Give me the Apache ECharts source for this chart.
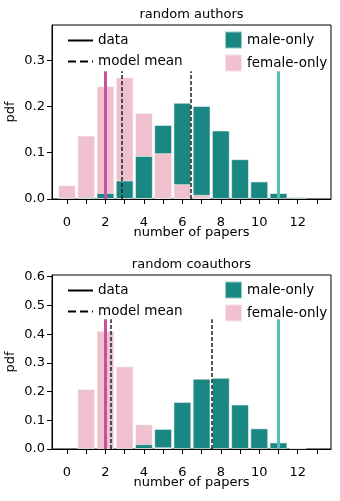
<!DOCTYPE html>
<html>
<head>
<meta charset="utf-8">
<script src="https://cdn.jsdelivr.net/npm/echarts@6/dist/echarts.min.js"></script>
<style>
html,body{margin:0;padding:0;background:#fff;}
#main{width:340px;height:501px;}
</style>
</head>
<body>
<div id="main"></div>
<script>
// number of papers (bar positions)
var papers = [0, 1, 2, 3, 4, 5, 6, 7, 8, 9, 10, 11, 12];
var xTicks = [0, 1, 2, 3, 4, 5, 6, 7, 8, 9, 10, 11, 12, 13];
var xLabels = [0, 2, 4, 6, 8, 10, 12];

// random authors
var authorsMale   = [0, 0.004, 0.013, 0.040, 0.093, 0.160, 0.208, 0.201, 0.148, 0.086, 0.038, 0.013, 0.004];
var authorsFemale = [0.030, 0.137, 0.244, 0.263, 0.186, 0.099, 0.032, 0.009, 0, 0, 0, 0, 0];
var authorsData = [2, 11];        // female, male
var authorsMean = [2.87, 6.45];   // female, male
var authorsLineTop = 0.276;
var authorsYTicks = [0, 0.1, 0.2, 0.3];

// random coauthors
var coauthorsMale   = [0, 0, 0, 0, 0.017, 0.070, 0.164, 0.245, 0.248, 0.155, 0.072, 0.023, 0.003];
var coauthorsFemale = [0, 0.209, 0.412, 0.288, 0.086, 0.006, 0, 0, 0, 0, 0, 0, 0];
var coauthorsData = [1.97, 11];
var coauthorsMean = [2.25, 7.53];
var coauthorsLineTop = 0.452;
var coauthorsYTicks = [0, 0.1, 0.2, 0.3, 0.4, 0.5, 0.6];

var TEAL = '#1a8782', PINK = '#efc1cf';
var LINE_PINK = '#c3559f', LINE_TEAL = '#5bbdb7';
var FONT = 'DejaVu Sans';

var myChart = echarts.init(document.getElementById('main'), null, {renderer: 'canvas'});

function bars(male, female, gi) {
	// smaller bar goes in front
	var mb = [], fb = [], mf = [], ff = [];
	papers.forEach(function (x, i) {
		var m = male[i], f = female[i];
		if (m >= f) {
			if (m > 0) mb.push([x, m]);
			if (f > 0) ff.push([x, f]);
		} else {
			fb.push([x, f]);
			if (m > 0) mf.push([x, m]);
		}
	});
	function s(name, color, data) {
		return {
			name: name, type: 'bar', xAxisIndex: gi, yAxisIndex: gi,
			barWidth: '93%', barGap: '-100%',
			itemStyle: {color: color, borderColor: 'rgba(255,255,255,0.55)', borderWidth: 1},
			emphasis: {disabled: true},
			data: data
		};
	}
	return [s('male-only', TEAL, mb), s('female-only', PINK, fb),
	        s('male-only', TEAL, mf), s('female-only', PINK, ff)];
}

function vlines(name, xs, top, gi, style) {
	var cols = [LINE_PINK, LINE_TEAL];
	return {
		name: name, type: 'line', xAxisIndex: gi, yAxisIndex: gi, z: 5,
		symbol: 'none', data: [],
		color: '#000',
		lineStyle: style,
		markLine: {
			silent: true, symbol: ['none', 'none'], label: {show: false},
			data: xs.map(function (x, i) {
				var ls = style.type === 'dashed'
					? {color: '#222', width: 1.5, type: [4, 2]}
					: {color: cols[i], width: 3, type: 'solid', opacity: 1};
				return [{coord: [x, 0], lineStyle: ls}, {coord: [x, top]}];
			})
		}
	};
}

function xAxis(gi) {
	return {
		type: 'value', gridIndex: gi, min: -0.78, max: 13.73,
		name: 'number of papers', nameLocation: 'middle', nameGap: 27, nameMoveOverlap: false,
		nameTextStyle: {color: '#000', fontSize: 13, fontFamily: FONT},
		axisLine: {onZero: false, lineStyle: {color: '#000', width: 1}},
		axisTick: {show: true, length: 5, customValues: xTicks, lineStyle: {color: '#000'}},
		axisLabel: {customValues: xLabels, margin: 17, color: '#000', fontSize: 13, fontFamily: FONT},
		splitLine: {show: false}
	};
}

function yAxis(gi, max, ticks) {
	return {
		type: 'value', gridIndex: gi, min: 0, max: max,
		name: 'pdf', nameLocation: 'middle', nameGap: 35, nameMoveOverlap: false,
		nameTextStyle: {color: '#000', fontSize: 13, fontFamily: FONT},
		axisLine: {show: true, onZero: false, lineStyle: {color: '#000', width: 1}},
		axisTick: {show: true, length: 5, customValues: ticks, lineStyle: {color: '#000'}},
		axisLabel: {customValues: ticks, margin: 7, color: '#000', fontSize: 13, fontFamily: FONT,
			formatter: function (v) { return v.toFixed(1); }},
		splitLine: {show: false}
	};
}

function legends(top) {
	var ts = {color: '#000', fontSize: 13.5, fontFamily: FONT};
	return [{
		data: ['data', 'model mean'], orient: 'vertical', left: 67, top: top + 3,
		padding: 0, itemWidth: 25, itemHeight: 14, itemGap: 7, textStyle: ts,
		itemStyle: {opacity: 0},
		selectedMode: false
	}, {
		data: ['male-only', 'female-only'], orient: 'vertical', left: 224, top: top,
		padding: 0, itemWidth: 17, itemHeight: 17, itemGap: 4, icon: 'rect', textStyle: ts,
		selectedMode: false
	}];
}

var options = {
	animation: false,
	backgroundColor: '#fff',
	textStyle: {fontFamily: FONT},
	title: [
		{text: 'random authors', left: 191.5, top: 8, textAlign: 'center', padding: 0,
		 textStyle: {color: '#000', fontSize: 13, fontWeight: 'normal', fontFamily: FONT}},
		{text: 'random coauthors', left: 191.5, top: 258, textAlign: 'center', padding: 0,
		 textStyle: {color: '#000', fontSize: 13, fontWeight: 'normal', fontFamily: FONT}}
	],
	legend: legends(30.5).concat(legends(280.5)),
	grid: [
		{left: 52, right: 9, top: 25, height: 174, show: true, borderColor: '#000', borderWidth: 1,
		 outerBoundsMode: 'none'},
		{left: 52, right: 9, top: 275, height: 174, show: true, borderColor: '#000', borderWidth: 1,
		 outerBoundsMode: 'none'}
	],
	xAxis: [xAxis(0), xAxis(1)],
	yAxis: [yAxis(0, 0.376, authorsYTicks), yAxis(1, 0.606, coauthorsYTicks)],
	series: [].concat(
		bars(authorsMale, authorsFemale, 0),
		bars(coauthorsMale, coauthorsFemale, 1),
		[
			vlines('data', authorsData, authorsLineTop, 0, {color: '#000', width: 2.5, type: 'solid'}),
			vlines('model mean', authorsMean, authorsLineTop, 0, {color: '#000', width: 1.5, type: 'dashed'}),
			vlines('data', coauthorsData, coauthorsLineTop, 1, {color: '#000', width: 2.5, type: 'solid'}),
			vlines('model mean', coauthorsMean, coauthorsLineTop, 1, {color: '#000', width: 1.5, type: 'dashed'})
		]
	)
};
myChart.setOption(options);
</script>
</body>
</html>
